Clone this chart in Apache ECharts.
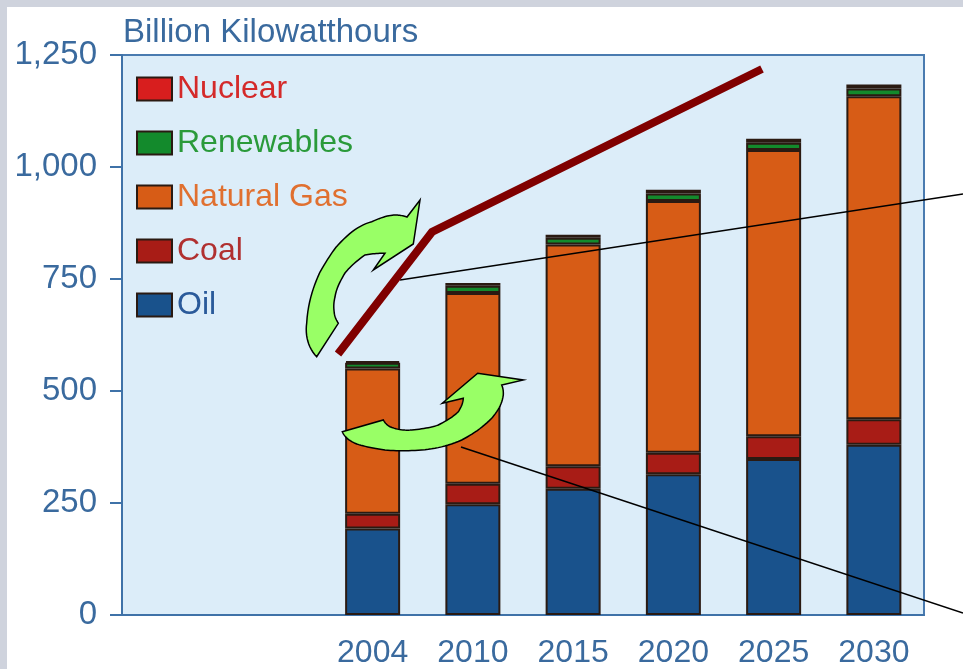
<!DOCTYPE html>
<html>
<head>
<meta charset="utf-8">
<script src="https://cdn.jsdelivr.net/npm/echarts@6/dist/echarts.min.js"></script>
<style>
html,body{margin:0;padding:0;background:#ffffff;}
#c{width:963px;height:669px;}
</style>
</head>
<body>
<div id="c"></div>
<script>
// Data
const categories = ['', '', '2004', '2010', '2015', '2020', '2025', '2030'];
const oil = [null, null, 193, 247, 282, 314, 348, 380];
const coal = [null, null, 33, 46, 50, 48, 51, 57];
const naturalGas = [null, null, 324, 426, 495, 562, 639, 721];
const renewables = [null, null, 13, 16, 15, 17, 16, 17];
const nuclear = [null, null, 4, 6, 7, 8, 9, 9];
const yTicks = [0, 250, 500, 750, 1000, 1250];

const FONT = '"Liberation Sans", Arial, sans-serif';
const blue = '#3a6a9e';
const border = '#2a1a12';

// sample a simple path string (M, L, C, Z) into polygon points (decoration only)
function samplePath(d) {
  const tok = d.match(/[MLCZ]|-?\d*\.?\d+/g);
  const pts = [];
  let i = 0, cmd = '', cx = 0, cy = 0;
  while (i < tok.length) {
    if (/[MLCZ]/.test(tok[i])) { cmd = tok[i++]; if (cmd === 'Z') continue; }
    if (cmd === 'M' || cmd === 'L') {
      cx = +tok[i++]; cy = +tok[i++]; pts.push([cx, cy]);
    } else if (cmd === 'C') {
      const x1 = +tok[i++], y1 = +tok[i++], x2 = +tok[i++], y2 = +tok[i++], x3 = +tok[i++], y3 = +tok[i++];
      for (let k = 1; k <= 12; k++) {
        const t = k / 12, u = 1 - t;
        pts.push([u*u*u*cx + 3*u*u*t*x1 + 3*u*t*t*x2 + t*t*t*x3,
                  u*u*u*cy + 3*u*u*t*y1 + 3*u*t*t*y2 + t*t*t*y3]);
      }
      cx = x3; cy = y3;
    } else { i++; }
  }
  return pts;
}
const arrowUpper = 'M316.7 356.7 C308 348 305 335 306.7 323 C308 300 315 283 320 272 C328 258 335 248 338 245 C350 232 360 225 371.7 221.7 C382 217 390 215 395 215 C400 215 404 216 407 217 L420 200 L413.3 244 L373.3 270 L385 253.3 C378 253 371 254 365 255 C355 262 349 268 345 273 C339 283 336 290 335 297 C333 305 334 310 334.3 313.3 C335 318 337 321 338.3 323.3 Z';
const arrowLower = 'M342.3 431.7 L383.3 420 C385 423 387 425 390 426.7 C398 430 405 430.5 411.7 430 C422 429 431 427.5 438.3 425 C448 420 454 416 458.3 411.7 C462 406 463 402 463.3 398.3 L442.3 403.3 L477.7 373.3 L523.3 380 L501.7 385 C503 388 503.5 391 503.3 395 C502 405 497 412 491.7 418.3 C482 428 473 434 461.7 440 C448 446 435 449 421.7 450 C408 451 396 451 385 450 C372 448 362 446 355 443.3 C348 440 344 436 342.3 431.7 Z';

const chart = echarts.init(document.getElementById('c'));

function barSeries(name, data, color) {
  return {
    name: name, type: 'bar', stack: 'total', data: data, barWidth: 55,
    itemStyle: { color: color, borderColor: border, borderWidth: 2 },
    emphasis: { disabled: true }
  };
}

chart.setOption({
  animation: false,
  backgroundColor: '#ffffff',
  title: {
    text: 'Billion Kilowatthours', left: 118, top: 11,
    textStyle: { fontFamily: FONT, fontSize: 33, fontWeight: 'normal', color: blue }
  },
  legend: {
    orient: 'vertical', left: 131, top: 68,
    itemWidth: 35, itemHeight: 23, itemGap: 22,
    icon: 'rect',
    textStyle: { fontFamily: FONT, fontSize: 32 },
    data: [
      { name: 'Nuclear', itemStyle: { color: '#d81e1e', borderColor: border, borderWidth: 2 }, textStyle: { color: '#d42a2a' } },
      { name: 'Renewables', textStyle: { color: '#2a9a3a' } },
      { name: 'Natural Gas', textStyle: { color: '#e07030' } },
      { name: 'Coal', textStyle: { color: '#b03030' } },
      { name: 'Oil', textStyle: { color: '#2a5a9a' } }
    ]
  },
  grid: {
    left: 122, top: 55, right: 39, bottom: 53,
    show: true, backgroundColor: '#dcedf9', borderColor: '#4a7bb0', borderWidth: 2
  },
  xAxis: {
    type: 'category', data: categories,
    axisLine: { lineStyle: { color: '#3f72a8', width: 2 } },
    axisTick: { show: false },
    axisLabel: { fontFamily: FONT, fontSize: 32, color: blue, margin: 22, interval: 0 }
  },
  yAxis: {
    type: 'value', min: 0, max: 1250, interval: 250,
    axisLine: { show: true, lineStyle: { color: '#3f72a8', width: 2 } },
    axisTick: { show: true, length: 12, lineStyle: { color: '#3f72a8', width: 2 } },
    splitLine: { show: false },
    axisLabel: {
      fontFamily: FONT, fontSize: 33, color: blue, margin: 25,
      formatter: v => yTicks.includes(v) ? v.toLocaleString('en-US') : ''
    }
  },
  series: [
    barSeries('Oil', oil, '#19528c'),
    barSeries('Coal', coal, '#a81c16'),
    barSeries('Natural Gas', naturalGas, '#d75c16'),
    barSeries('Renewables', renewables, '#138a2c'),
    barSeries('Nuclear', nuclear, '#2b1008')
  ],
  graphic: [
    { type: 'rect', left: 0, top: 0, shape: { width: 963, height: 7 }, style: { fill: '#cfd3dd' }, z: 0 },
    { type: 'rect', left: 0, top: 0, shape: { width: 7, height: 669 }, style: { fill: '#cfd3dd' }, z: 0 },
    { type: 'polyline', shape: { points: [[400, 280], [963, 194]] }, style: { stroke: '#000', lineWidth: 1.5, fill: null }, z: 100 },
    { type: 'polyline', shape: { points: [[461, 447], [963, 613]] }, style: { stroke: '#000', lineWidth: 1.5, fill: null }, z: 100 },
    { type: 'polyline', shape: { points: [[338, 354], [432, 232], [762, 69]] }, style: { stroke: '#800000', lineWidth: 8, fill: null, lineJoin: 'miter' }, z: 101 },
    { type: 'polygon', z: 102, shape: { points: samplePath(arrowUpper) }, style: { fill: '#99ff66', stroke: '#000', lineWidth: 1.5 } },
    { type: 'polygon', z: 102, shape: { points: samplePath(arrowLower) }, style: { fill: '#99ff66', stroke: '#000', lineWidth: 1.5 } }
  ]
});
</script>
</body>
</html>
